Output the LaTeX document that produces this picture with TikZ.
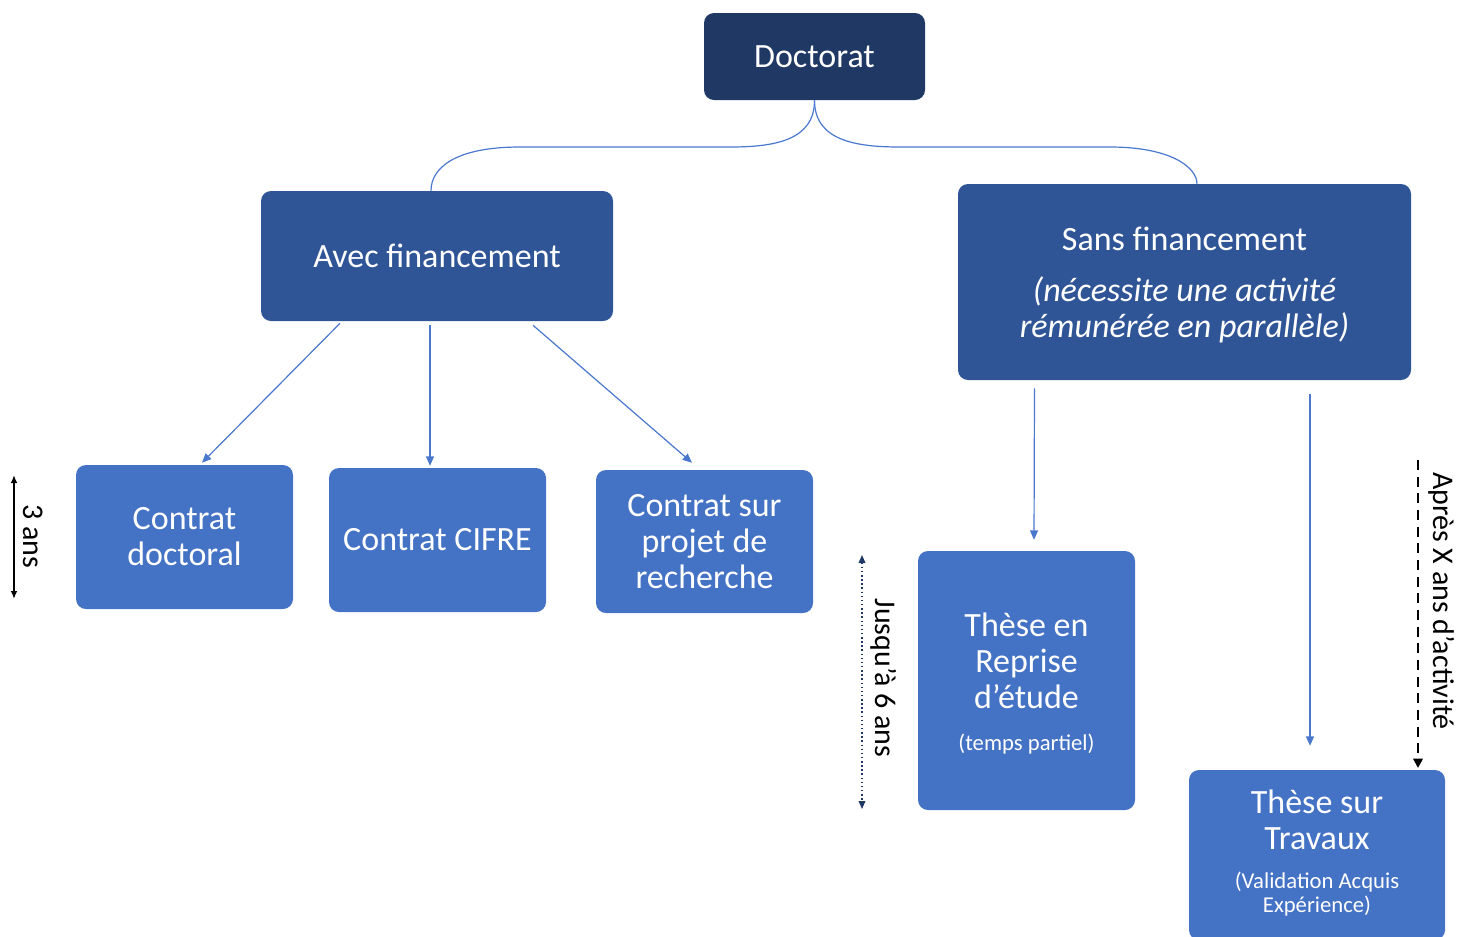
\documentclass[tikz,border=0pt]{standalone}
\usepackage{fontspec}
\setmainfont{Carlito}
\usetikzlibrary{arrows.meta,calc}
\definecolor{navy}{HTML}{203864}
\definecolor{midblue}{HTML}{2F5597}
\definecolor{lightblue}{HTML}{4472C4}
\definecolor{linkblue}{HTML}{4A78CE}
\tikzset{
  box/.style={rounded corners=7.5pt, text=white, align=center, inner sep=2pt,
    font=\fontsize{25.5}{27}\selectfont},
  lvlone/.style={box, fill=navy},
  lvltwo/.style={box, fill=midblue},
  lvlthree/.style={box, fill=lightblue},
  link/.style={draw=linkblue, line width=0.9pt},
  arr/.style={link, -{Triangle[length=7pt,width=6pt]}},
  sidelabel/.style={font=\fontsize{22.5}{24}\selectfont, rotate=-90, inner sep=0pt},
}
\newcommand{\smalltext}[1]{{\fontsize{17}{18}\selectfont\begin{tabular}{@{}c@{}}#1\end{tabular}}}
\begin{document}
\begin{tikzpicture}[x=0.75pt,y=-0.75pt]
\useasboundingbox (0,0) rectangle (1470,936);
% boxes
\node[lvlone, minimum width=165.75pt, minimum height=65.25pt] (doc) at (814.5,56.5) {Doctorat};
\node[lvltwo, minimum width=264pt, minimum height=97.5pt] (avec) at (437,256) {Avec financement};
\node[lvltwo, minimum width=339.75pt, minimum height=147pt] (sans) at (1184.5,282)
  {\rule{0pt}{22pt}Sans financement\\[11pt]\textit{(nécessite une activité}\\\textit{rémunérée en parallèle)}};
\node[lvlthree, minimum width=162.75pt, minimum height=108pt] (cdoc) at (184.5,537) {Contrat\\doctoral};
\node[lvlthree, minimum width=162.75pt, minimum height=108pt] (cifre) at (437.5,540) {Contrat CIFRE};
\node[lvlthree, minimum width=162.75pt, minimum height=107.25pt] (proj) at (704.5,541.5) {Contrat sur\\projet de\\recherche};
\node[lvlthree, minimum width=162.75pt, minimum height=194.25pt] (rep) at (1026.5,680.5)
  {\rule{0pt}{25pt}Thèse en\\Reprise\\d’étude\\[5pt]\smalltext{(temps partiel)}};
\node[lvlthree, minimum width=192pt, minimum height=127.5pt] (trav) at (1317,855)
  {Thèse sur\\Travaux\\[12pt]\smalltext{(Validation Acquis\\Expérience)}};
% braces
\draw[link] (doc.south) .. controls ($(doc.south)+(0,40)$) and (775,147) .. (730,147)
  -- (520,147) .. controls (455,147) and (431,168) .. ($(avec.north)+(-6,0)$);
\draw[link] (doc.south) .. controls ($(doc.south)+(0,40)$) and (855,147) .. (900,147)
  -- (1110,147) .. controls (1172,147) and (1197,168) .. ($(sans.north)+(12.5,0)$);
% arrows from Avec
\draw[arr] ($(avec.south)+(-97,2)$) -- ($(cdoc.north)+(17.5,-2)$);
\draw[arr] ($(avec.south)+(-7,4)$) -- ($(cifre.north)+(-7.5,-2)$);
\draw[arr] ($(avec.south)+(96,4)$) -- ($(proj.north)+(-12.5,-7)$);
% arrows from Sans
\draw[arr] ($(sans.south)+(-150,8)$) -- ($(rep.north)+(7.5,-11)$);
\draw[arr] ($(sans.south)+(125.5,14)$) -- ($(trav.north)+(-7,-24)$);
% side annotations
\coordinate (a3t) at (14,475);
\coordinate (a3b) at (14,599);
\draw[line width=1.2pt, {Latex[length=6pt,width=5pt]}-{Latex[length=6pt,width=5pt]}] (a3t) -- (a3b);
\node[sidelabel] (l3) at (33,536) {3 ans};
\coordinate (a6t) at (862,555);
\coordinate (a6b) at (862,809);
\draw[navy, line width=1.1pt, dotted, {Triangle[length=6pt,width=5pt]}-{Triangle[length=6pt,width=5pt]}] (a6t) -- (a6b);
\node[sidelabel] (l6) at (884,678) {Jusqu’à 6 ans};
\coordinate (axt) at (1418,460);
\coordinate (axb) at (1418,768);
\draw[line width=2.1pt, dash pattern=on 7.5pt off 5pt, -{Triangle[length=7pt,width=7pt]}] (axt) -- (axb);
\node[sidelabel] (lx) at (1442,601) {Après X ans d’activité};
\end{tikzpicture}
\end{document}
